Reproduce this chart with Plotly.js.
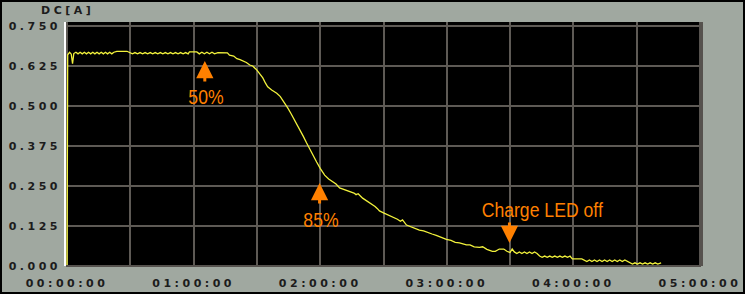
<!DOCTYPE html>
<html>
<head>
<meta charset="utf-8">
<script src="https://cdn.plot.ly/plotly-3.0.1.min.js"></script>
<style>
  html, body { margin: 0; padding: 0; background: #000; }
  #chart { width: 741px; height: 290px; border: 2px solid #000; }
  #chart .xtick text, #chart .ytick text, #chart .gtitle { letter-spacing: 3.5px; }
  #chart .annotation-text { transform-box: fill-box; transform-origin: center; transform: scaleX(0.84); }
</style>
</head>
<body>
<div id="chart"></div>
<script>
// time in minutes since start
const minutes = [
  0, 0.3, 1.2, 2.0, 2.6, 3.2, 4.2, 5.2, 6.2, 7.2, 8.2, 9.2, 10.2, 11.2, 12.2, 13.2, 14.2, 15.2,
  16.2, 17.2, 18.2, 19.2, 20.2, 21.2, 22.2, 23.6, 28.4, 29.8, 31, 32.2, 33.4, 34.6, 35.8, 37, 38.2,
  39.4, 40.6, 41.8, 43, 44.2, 45.4, 46.6, 47.8, 49, 50.2, 51.4, 52.6, 53.8, 55, 56.2, 57.4, 58,
  61.5, 62.7, 63.9, 65.1, 66.3, 67.5, 68.7, 69.9, 71.5, 76, 77, 79, 80.5, 82, 84, 85, 86.6, 88,
  90, 91.5, 92.8, 94, 95.1, 97, 99.4, 101, 102.2, 103.5, 104.6, 106, 107, 108.5, 110.3, 112,
  113.5, 115, 116.5, 118.3, 120, 122.1, 124, 126, 127.5, 129.2, 131, 133, 134.9, 136, 137, 138,
  140.1, 142, 144, 146, 147, 148.1, 150, 152, 154, 156.6, 158, 159, 160.9, 163, 165, 167, 169,
  171, 173, 175, 177, 179.8, 182, 184, 186, 188, 189.3, 191, 193, 195.5, 197, 199, 201.6, 203,
  204.9, 207, 208.5, 210, 211, 212, 213.2, 214.4, 215.6, 216.8, 218, 219.2, 220.4, 221.6, 222.8,
  224, 225.2, 226.4, 227.6, 228.8, 230, 231.2, 232.4, 233.6, 234.8, 236, 237.2, 238.4, 239.5,
  244, 245.2, 246.4, 247.6, 248.8, 250, 251.2, 252.4, 253.6, 254.8, 256, 257.2, 258.4, 259.6,
  260.8, 262, 263.2, 264.4, 265.6, 266.8, 268, 269.2, 270.4, 271.6, 272.8, 274, 275.2, 276.4,
  277.6, 278.8, 280, 281.6
];
const amps = [
  0.000, 0.660, 0.668, 0.662, 0.632, 0.664, 0.668, 0.663, 0.668, 0.663, 0.668, 0.663, 0.668, 0.663, 0.668, 0.663, 0.668, 0.663,
  0.668, 0.663, 0.668, 0.663, 0.668, 0.663, 0.668, 0.671, 0.671, 0.667, 0.663, 0.667, 0.663, 0.667, 0.663, 0.667, 0.663,
  0.667, 0.663, 0.667, 0.663, 0.667, 0.663, 0.667, 0.663, 0.667, 0.663, 0.667, 0.663, 0.667, 0.663, 0.667, 0.663, 0.669,
  0.669, 0.663, 0.668, 0.663, 0.668, 0.663, 0.668, 0.663, 0.667, 0.666, 0.659, 0.656, 0.648, 0.645, 0.640, 0.636, 0.628, 0.625,
  0.612, 0.600, 0.588, 0.572, 0.560, 0.550, 0.540, 0.530, 0.519, 0.505, 0.494, 0.478, 0.466, 0.450, 0.425, 0.405,
  0.385, 0.365, 0.345, 0.325, 0.305, 0.284, 0.272, 0.262, 0.256, 0.244, 0.240, 0.236, 0.231, 0.228, 0.223, 0.226,
  0.212, 0.204, 0.195, 0.186, 0.180, 0.172, 0.166, 0.160, 0.156, 0.146, 0.140, 0.144, 0.128, 0.122, 0.118, 0.112, 0.110,
  0.104, 0.100, 0.096, 0.090, 0.083, 0.080, 0.074, 0.072, 0.068, 0.066, 0.066, 0.060, 0.058, 0.060, 0.052, 0.046, 0.046,
  0.053, 0.053, 0.046, 0.042, 0.053, 0.044, 0.039, 0.044, 0.039, 0.044, 0.039, 0.044, 0.039, 0.044, 0.039,
  0.031, 0.027, 0.031, 0.027, 0.031, 0.027, 0.031, 0.027, 0.031, 0.027, 0.031, 0.027, 0.031, 0.022,
  0.022, 0.019, 0.014, 0.019, 0.014, 0.019, 0.014, 0.019, 0.014, 0.019, 0.014, 0.019, 0.014, 0.019,
  0.014, 0.019, 0.014, 0.019, 0.014, 0.010, 0.006, 0.010, 0.006, 0.010, 0.006, 0.010, 0.006, 0.010,
  0.006, 0.010, 0.006, 0.010
];
const xTickVals = [0, 60, 120, 180, 240, 300];
const xTickText = ['00:00:00', '01:00:00', '02:00:00', '03:00:00', '04:00:00', '05:00:00'];
const yTickVals = [0, 0.125, 0.25, 0.375, 0.5, 0.625, 0.75];
const yTickText = ['0.000', '0.125', '0.250', '0.375', '0.500', '0.625', '0.750'];
const yLabel = 'DC[A]';
// arrow tip (t, v); arrow shaft length in px (positive = tail below tip); text offset in px
const notes = [
  {text: '50%', t: 65.3, v: 0.641, shaft: 22, dx: 1, dy: -36},
  {text: '85%', t: 119.7, v: 0.259, shaft: 22, dx: 1, dy: -36},
  {text: 'Charge LED off', t: 209.7, v: 0.072, shaft: -22, dx: 33, dy: 33}
];

const tickFont = {family: 'DejaVu Sans', size: 11, color: '#1c1c1c', weight: 'bold'};
const noteFont = {family: '"Liberation Sans", Arial, sans-serif', size: 21, color: '#ff8000'};
const grid = '#5e5a55';

const trace = {
  x: minutes, y: amps, type: 'scatter', mode: 'lines',
  line: {color: '#f2f23c', width: 1.3}, hoverinfo: 'skip'
};

const annotations = [];
notes.forEach(n => {
  annotations.push({
    x: n.t, y: n.v, xref: 'x', yref: 'y', text: '',
    showarrow: true, ax: 0, ay: n.shaft, arrowhead: 2, arrowsize: 1.15, arrowwidth: 3,
    arrowcolor: '#ff8000'
  });
  annotations.push({
    x: n.t, y: n.v, xref: 'x', yref: 'y', text: n.text, showarrow: false,
    xanchor: 'center', yanchor: 'middle', xshift: n.dx, yshift: n.dy, font: noteFont
  });
});

const layout = {
  width: 741, height: 290,
  margin: {l: 64, r: 42, t: 20, b: 26, pad: 0},
  paper_bgcolor: '#a0a8a0', plot_bgcolor: '#000000',
  showlegend: false,
  title: {text: yLabel, font: tickFont, xref: 'container', x: 39/741, xanchor: 'left',
          yref: 'container', y: 1 - 8/290, yanchor: 'middle'},
  xaxis: {
    range: [-0.5, 300.5], tickvals: xTickVals, ticktext: xTickText,
    showgrid: true, gridcolor: grid, gridwidth: 2, zeroline: false, showline: false,
    ticks: '', tickfont: tickFont, ticklabelstandoff: 9,
    minor: {dtick: 30, showgrid: true, gridcolor: grid, gridwidth: 2, ticks: ''},
    fixedrange: true
  },
  yaxis: {
    range: [0, 0.7625], tickvals: yTickVals, ticktext: yTickText,
    showgrid: true, gridcolor: grid, gridwidth: 1.5, zeroline: false, showline: false,
    ticks: '', tickfont: tickFont, ticklabelstandoff: 4,
    fixedrange: true
  },
  shapes: [
    {type: 'rect', xref: 'paper', yref: 'paper', xsizemode: 'pixel', xanchor: 0,
     x0: -2, x1: 0, y0: 0, y1: 1, fillcolor: '#ffffff', line: {width: 0}, layer: 'above'},
    {type: 'rect', xref: 'paper', yref: 'paper', xsizemode: 'pixel', xanchor: 1,
     x0: -2, x1: 2, y0: 0, y1: 1, fillcolor: '#56524e', line: {width: 0}, layer: 'above'},
    {type: 'rect', xref: 'paper', yref: 'paper', ysizemode: 'pixel', yanchor: 0,
     x0: 0, x1: 1, y0: -1, y1: 1, fillcolor: '#56524e', line: {width: 0}, layer: 'above'}
  ],
  annotations: annotations
};

Plotly.newPlot('chart', [trace], layout, {displayModeBar: false, staticPlot: true});
</script>
</body>
</html>
